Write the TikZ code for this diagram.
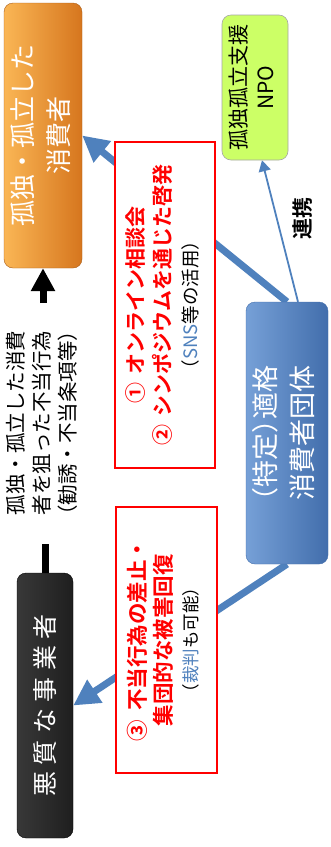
\documentclass[tikz,border=0pt]{standalone}
\usepackage{fontspec}
\usepackage{graphicx}
\setmainfont{Noto Sans CJK JP}[BoldFont={Noto Sans CJK JP Bold}]
\newfontfamily\jph{Noto Sans CJK JP}[RawFeature=+halt]
\usetikzlibrary{arrows.meta,calc}
\definecolor{oL}{RGB}{250,182,85}
\definecolor{oM}{RGB}{240,145,45}
\definecolor{oD}{RGB}{214,118,30}
\definecolor{bL}{RGB}{118,160,215}
\definecolor{bM}{RGB}{84,134,196}
\definecolor{bD}{RGB}{66,110,172}
\definecolor{arrblue}{RGB}{79,129,189}
\definecolor{txtblue}{RGB}{79,129,189}
\definecolor{npogreen}{RGB}{204,255,102}
\definecolor{myred}{RGB}{255,0,0}
\pgfdeclarelayer{bg}
\pgfsetlayers{bg,main}
\newcommand\fs[2]{\fontsize{#1}{#2}\selectfont}
\newcommand\rtext[3]{\rotatebox{90}{\fs{#1}{#2}\begin{tabular}{@{}c@{}}#3\end{tabular}}}
\tikzset{
  basebox/.style={rectangle, rounded corners=9pt, inner sep=0pt, text=white, align=center},
  obox/.style={basebox, left color=oL, middle color=oM, right color=oD, draw=oD!80!black, line width=0.4pt},
  bbox/.style={basebox, left color=bL, middle color=bM, right color=bD, draw=bD, line width=0.4pt},
  kbox/.style={basebox, left color=black!78, middle color=black, right color=black!88, draw=black},
  npobox/.style={rectangle, rounded corners=9pt, inner sep=0pt, fill=npogreen, draw=black!35, line width=0.6pt, text=black},
  redbox/.style={rectangle, inner sep=0pt, draw=myred, line width=1.6pt, fill=white},
  barrow/.style={draw=arrblue, line width=7pt, -{Triangle[length=26pt,width=26pt]}},
  narrow/.style={draw=arrblue, line width=1.8pt, -{Triangle[length=11pt,width=12pt]}},
  karrow/.style={draw=black, line width=7pt, -{Triangle[length=23pt,width=23pt]}},
  kline/.style={draw=black, line width=7pt},
  plain/.style={inner sep=0pt, text=black}
}
\begin{document}
\begin{tikzpicture}[x=1pt,y=1pt]
\useasboundingbox (0,0) rectangle (330,-847);
\begin{pgfonlayer}{bg}
\fill[white] (0,0) rectangle (330,-847);
\end{pgfonlayer}

% main boxes
\node[obox, minimum width=78pt, minimum height=265pt] (iso) at (43,-135.5)
  {\rtext{26}{36}{孤独・孤立した\\消費者}};
\node[bbox, minimum width=82pt, minimum height=262pt] (qco) at (287,-433)
  {\rtext{27}{37}{{\jph （}特定{\jph ）}適格\\消費者団体}};
\node[kbox, minimum width=56pt, minimum height=265pt] (bad) at (45,-705.5)
  {\rotatebox{90}{\fs{25}{30}悪\kern6.5pt 質\kern6.5pt な\kern6.5pt 事\kern6.5pt 業\kern6.5pt 者}};
\node[npobox, minimum width=66pt, minimum height=145pt] (npo) at (255,-87.5)
  {\rtext{21}{27}{孤独孤立支援\\NPO}};

% middle text
\node[plain] (act) at (44,-423)
  {\rtext{20.5}{26}{孤独・孤立した消費\\者を狙った不当行為\\{\jph （}勧誘・不当条項等{\jph ）}}};

% label
\node[plain] (renkei) at (302.5,-218.5) {\rotatebox{90}{\fs{21}{24}\bfseries 連携}};

% connectors
\coordinate (ah) at (43,-303);
\coordinate (st) at (45,-544);
\begin{pgfonlayer}{bg}
\draw[barrow] (qco.north) -- (iso.east);
\draw[barrow] (qco.south) -- (bad.east);
\draw[narrow] ([xshift=11pt]qco.north) -- ([xshift=7pt]npo.south);
\end{pgfonlayer}
\draw[karrow] (ah) -- (iso.south);
\draw[kline] (bad.north) -- (st);

% red boxes
\node[redbox, minimum width=100pt, minimum height=326pt] (r1) at (165,-305)
  {\rtext{21}{27}{\textcolor{myred}{\bfseries ①\hspace{0.4em}オンライン相談会}\\
   \textcolor{myred}{\bfseries ②\hspace{0.4em}シンポジウムを通じた啓発}\\
   {\fs{18.5}{20}（\textcolor{txtblue}{SNS}等の活用）}}};
\node[redbox, minimum width=101pt, minimum height=266pt] (r2) at (166.5,-640)
  {\rtext{21.5}{26}{\textcolor{myred}{\bfseries ③\hspace{0.4em}不当行為の差止・}\\
   \textcolor{myred}{\bfseries 集団的な被害回復}\\
   {\fs{17.5}{20}（\textcolor{txtblue}{裁判}も可能）}}};
\end{tikzpicture}
\end{document}
